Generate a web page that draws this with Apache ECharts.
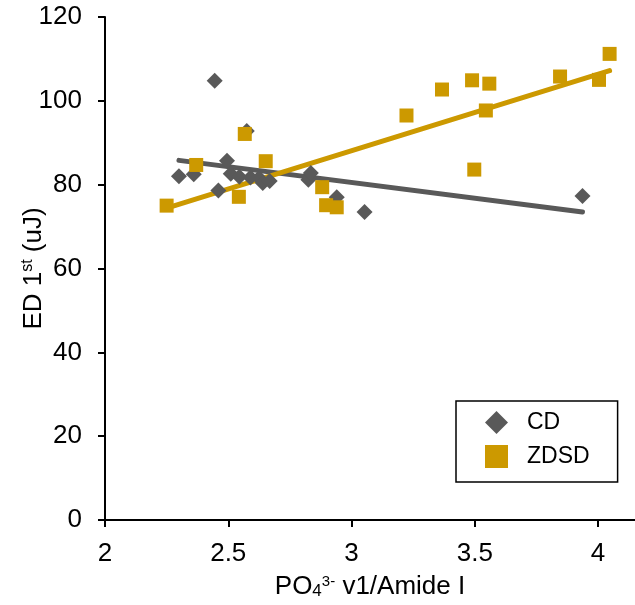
<!DOCTYPE html>
<html>
<head>
<meta charset="utf-8">
<script src="https://cdn.jsdelivr.net/npm/echarts@6/dist/echarts.min.js"></script>
<style>html,body{margin:0;padding:0;background:#fff}#c{width:635px;height:605px}</style>
</head>
<body>
<div id="c"></div>
<script>
const seriesNames = ['CD', 'ZDSD'];
const cdPoints = [
  [2.30, 82.0], [2.36, 82.5], [2.445, 104.8], [2.46, 78.6], [2.495, 85.7],
  [2.51, 82.6], [2.545, 81.9], [2.575, 92.8], [2.59, 81.7], [2.625, 81.6],
  [2.64, 80.4], [2.668, 80.9], [2.825, 81.2], [2.835, 82.8], [2.94, 77.0],
  [3.053, 73.5], [3.937, 77.3]
];
const zdsdPoints = [
  [2.25, 75.0], [2.37, 84.7], [2.543, 77.1], [2.567, 92.1], [2.652, 85.6],
  [2.881, 79.4], [2.897, 75.1], [2.94, 74.6], [3.223, 96.5], [3.367, 102.7],
  [3.489, 104.9], [3.498, 83.6], [3.545, 97.7], [3.559, 104.1], [3.846, 105.8],
  [4.004, 105.0], [4.047, 111.2]
];
const cdTrend = [[2.30, 85.8], [3.937, 73.5]];
const zdsdTrend = [[2.25, 74.4], [4.047, 107.2]];
const xTicks = [2, 2.5, 3, 3.5, 4];
const yTicks = [0, 20, 40, 60, 80, 100, 120];

const FONT = '"Liberation Sans", Arial, sans-serif';
const gray = '#595959';
const gold = '#CC9900';

const chart = echarts.init(document.getElementById('c'), null, {renderer: 'canvas'});
chart.setOption({
  animation: false,
  backgroundColor: '#fff',
  textStyle: {fontFamily: FONT},
  grid: {left: 105, right: 0, top: 17, bottom: 85, containLabel: false, outerBoundsMode: 'none'},
  xAxis: {
    type: 'value', min: 2, max: 4.15, interval: 0.5,
    axisLine: {lineStyle: {color: '#000', width: 2}},
    axisTick: {show: true, length: 7, lineStyle: {color: '#000', width: 2}, customValues: xTicks},
    axisLabel: {color: '#000', fontSize: 26, margin: 21, fontFamily: FONT, customValues: xTicks},
    splitLine: {show: false},
    name: '{a|PO}{sub|4}{sup|3-}{a| v1/Amide I}',
    nameLocation: 'middle', nameGap: 53, nameMoveOverlap: false,
    nameTextStyle: {
      color: '#000', fontFamily: FONT,
      rich: {
        a: {fontSize: 26, color: '#000', fontFamily: FONT},
        sub: {fontSize: 17, color: '#000', fontFamily: FONT, padding: [10, 0, 0, 0]},
        sup: {fontSize: 15, color: '#000', fontFamily: FONT, padding: [0, 0, 10, 0]}
      }
    }
  },
  yAxis: {
    type: 'value', min: 0, max: 120, interval: 20,
    axisLine: {show: true, lineStyle: {color: '#000', width: 2}},
    axisTick: {show: true, length: 7, lineStyle: {color: '#000', width: 2}, customValues: yTicks},
    axisLabel: {color: '#000', fontSize: 26, margin: 23, fontFamily: FONT, customValues: yTicks},
    splitLine: {show: false},
    name: '{a|ED 1}{sup|st}{a| (uJ)}',
    nameLocation: 'middle', nameGap: 58, nameRotate: 90, nameMoveOverlap: false,
    nameTextStyle: {
      color: '#000', fontFamily: FONT,
      rich: {
        a: {fontSize: 26, color: '#000', fontFamily: FONT},
        sup: {fontSize: 16, color: '#000', fontFamily: FONT, padding: [0, 0, 11, 0]}
      }
    }
  },
  legend: {
    orient: 'vertical', left: 456, top: 401,
    data: [{name: 'CD', icon: 'diamond'}, {name: 'ZDSD', icon: 'rect'}],
    itemWidth: 23, itemHeight: 23, itemGap: 11,
    padding: [10, 28, 14, 29],
    borderColor: '#000', borderWidth: 1.5,
    backgroundColor: '#fff',
    textStyle: {fontSize: 23, color: '#000', fontFamily: FONT, padding: [0, 0, 0, 14]}
  },
  series: [
    {name: 'CD trend', type: 'line', data: cdTrend, showSymbol: false, symbol: 'none',
     lineStyle: {color: gray, width: 5, cap: 'round'}, z: 2, silent: true},
    {name: 'ZDSD trend', type: 'line', data: zdsdTrend, showSymbol: false, symbol: 'none',
     lineStyle: {color: gold, width: 5, cap: 'round'}, z: 2, silent: true},
    {name: seriesNames[0], type: 'scatter', data: cdPoints, symbol: 'diamond', symbolSize: 16,
     itemStyle: {color: gray, opacity: 1}, z: 3},
    {name: seriesNames[1], type: 'scatter', data: zdsdPoints, symbol: 'rect', symbolSize: 14,
     itemStyle: {color: gold, opacity: 1}, z: 4}
  ]
});
</script>
</body>
</html>
